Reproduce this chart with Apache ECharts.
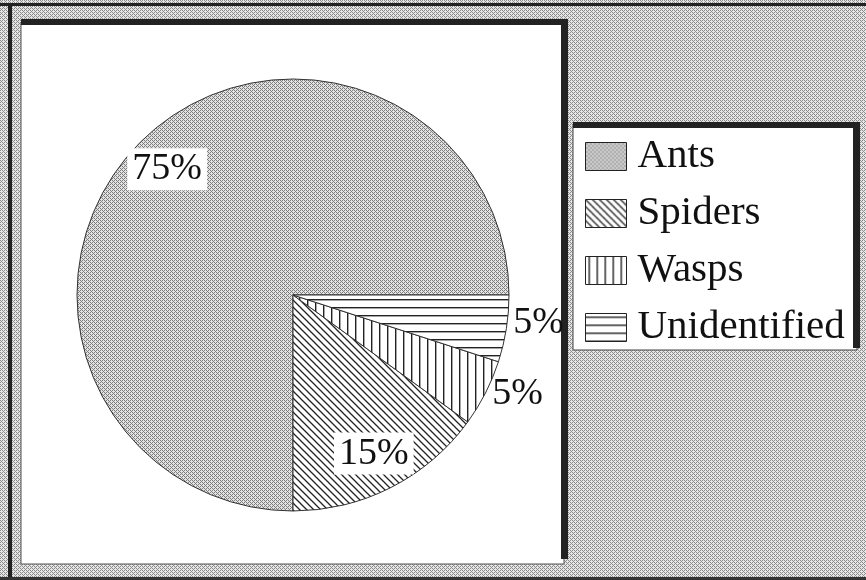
<!DOCTYPE html>
<html>
<head>
<meta charset="utf-8">
<script src="https://cdn.jsdelivr.net/npm/echarts@6/dist/echarts.min.js"></script>
<style>
  html, body { margin: 0; padding: 0; background: #fff; }
  #chart { width: 866px; height: 580px; }
</style>
</head>
<body>
<div id="chart"></div>
<script>
// prey composition
var categories = ['Ants', 'Spiders', 'Wasps', 'Unidentified'];
var shares = [75, 15, 5, 5];
// which slices carry their label inside the pie
var insideLabel = [true, true, false, false];

function makePattern(size, draw) {
  var c = document.createElement('canvas');
  c.width = size; c.height = size;
  var ctx = c.getContext('2d');
  ctx.fillStyle = '#fff';
  ctx.fillRect(0, 0, size, size);
  draw(ctx, size);
  return { image: c, repeat: 'repeat' };
}

// dithered grey like the scan
function dots(dark, light) {
  return makePattern(4, function(ctx) {
    var map = [
      [1, 0, 1, 0],
      [0, 1, 0, 0],
      [1, 0, 1, 0],
      [0, 0, 0, 1]
    ];
    for (var y = 0; y < 4; y++) {
      for (var x = 0; x < 4; x++) {
        ctx.fillStyle = map[y][x] ? dark : light;
        ctx.fillRect(x, y, 1, 1);
      }
    }
  });
}

var diag = makePattern(7, function(ctx, s) {
  ctx.strokeStyle = '#222';
  ctx.lineWidth = 1.3;
  ctx.beginPath();
  ctx.moveTo(-1, -1); ctx.lineTo(s + 1, s + 1);
  ctx.moveTo(-1, s - 1); ctx.lineTo(1, s + 1);
  ctx.moveTo(s - 1, -1); ctx.lineTo(s + 1, 1);
  ctx.stroke();
});
var vert = makePattern(8, function(ctx, s) {
  ctx.fillStyle = '#222';
  ctx.fillRect(3, 0, 1.4, s);
});
var horiz = makePattern(8, function(ctx, s) {
  ctx.fillStyle = '#222';
  ctx.fillRect(0, 3, s, 1.4);
});
var antsFill = dots('#7e7e7e', '#e2e2e2');
var pageFill = dots('#8c8c8c', '#e6e6e6');

var fills = [antsFill, diag, vert, horiz];

var pieData = categories.map(function(name, i) {
  return {
    name: name,
    value: shares[i],
    itemStyle: { color: fills[i] },
    label: {
      show: !insideLabel[i],
      offset: i === 3 ? [0, -6] : [0, 0]
    }
  };
});

var labelData = categories.map(function(name, i) {
  return {
    name: name,
    value: shares[i],
    label: { show: insideLabel[i] }
  };
});

var chart = echarts.init(document.getElementById('chart'));

chart.setOption({
  animation: false,
  graphic: [
    { type: 'rect', z: -10, shape: { x: 0, y: 0, width: 866, height: 580 }, style: { fill: pageFill } },
    { type: 'rect', z: -9, shape: { x: 0, y: 3, width: 866, height: 3 }, style: { fill: '#222' } },
    { type: 'rect', z: -9, shape: { x: 8, y: 3, width: 4, height: 577 }, style: { fill: '#222' } },
    { type: 'rect', z: -9, shape: { x: 0, y: 577, width: 866, height: 3 }, style: { fill: '#333' } },
    // plot box
    { type: 'rect', z: -9, shape: { x: 21, y: 22, width: 543, height: 542 }, style: { fill: '#fff', stroke: '#555', lineWidth: 1 } },
    { type: 'rect', z: -8, shape: { x: 21, y: 19, width: 547, height: 6 }, style: { fill: '#222' } },
    { type: 'rect', z: -8, shape: { x: 561, y: 19, width: 7, height: 540 }, style: { fill: '#222' } },
    // legend box
    { type: 'rect', z: -9, shape: { x: 573, y: 124, width: 284, height: 226 }, style: { fill: '#fff', stroke: '#444', lineWidth: 1 } },
    { type: 'rect', z: -8, shape: { x: 573, y: 122, width: 287, height: 6 }, style: { fill: '#222' } },
    { type: 'rect', z: -8, shape: { x: 853, y: 122, width: 7, height: 226 }, style: { fill: '#222' } }
  ],
  legend: {
    orient: 'vertical',
    left: 585,
    top: 136,
    padding: 0,
    itemWidth: 41,
    itemHeight: 28,
    itemGap: 16,
    icon: 'rect',
    data: categories,
    selectedMode: false,
    itemStyle: { borderColor: '#222', borderWidth: 1 },
    textStyle: {
      fontFamily: 'Liberation Serif',
      fontSize: 41,
      color: '#111',
      padding: [0, 0, 0, 6]
    }
  },
  series: [
    {
      type: 'pie',
      center: [293, 295],
      radius: [0, 216],
      startAngle: 0,
      clockwise: false,
      avoidLabelOverlap: false,
      percentPrecision: 0,
      emphasis: { disabled: true },
      itemStyle: { borderColor: '#333', borderWidth: 1 },
      label: {
        position: 'outside',
        formatter: '{d}%',
        fontFamily: 'Liberation Serif',
        fontSize: 38,
        color: '#111',
        distanceToLabelLine: 4
      },
      labelLine: { show: false, length: 3, length2: 0 },
      data: pieData
    },
    {
      type: 'pie',
      center: [293, 295],
      radius: [0, 350],
      startAngle: 0,
      clockwise: false,
      avoidLabelOverlap: false,
      percentPrecision: 0,
      silent: true,
      emphasis: { disabled: true },
      itemStyle: { color: 'rgba(0,0,0,0)', borderWidth: 0 },
      label: {
        position: 'inside',
        formatter: '{d}%',
        fontFamily: 'Liberation Serif',
        fontSize: 38,
        color: '#111',
        backgroundColor: '#fff',
        padding: [3, 5, 1, 5]
      },
      labelLine: { show: false },
      data: labelData
    }
  ]
});
</script>
</body>
</html>
